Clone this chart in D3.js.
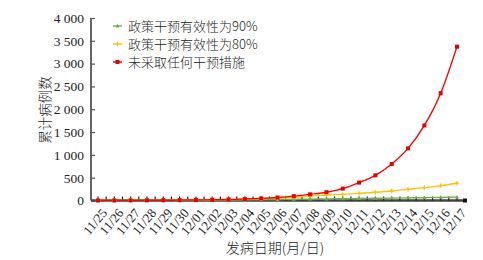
<!DOCTYPE html>
<html><head><meta charset="utf-8">
<script src="https://cdn.jsdelivr.net/npm/d3@7"></script>
<style>body{margin:0;background:#fff}svg{display:block}</style>
</head><body><svg id="c" width="483" height="260"></svg>
<script>
const categories = ["11/25","11/26","11/27","11/28","11/29","11/30","12/01","12/02","12/03","12/04","12/05","12/06","12/07","12/08","12/09","12/10","12/11","12/12","12/13","12/14","12/15","12/16","12/17"];
const seriesNames = ["政策干预有效性为90%","政策干预有效性为80%","未采取任何干预措施"];
const green90 = [1,2,3,4,5,7,9,11,14,17,20,23,27,31,35,39,43,48,53,58,63,69,75];
const orange80 = [1,2,3,4,6,8,11,15,20,27,38,52,72,100,118,135,157,180,208,245,282,325,378];
const red = [1,2,3,4,6,8,11,16,23,32,46,66,95,135,182,260,392,552,800,1142,1645,2352,3372];
const yTicks = [0,500,1000,1500,2000,2500,3000,3500,4000];
const colors = ["#70AD47","#FFC000","#FF0000"];

const svg = d3.select("#c");
const x = d3.scalePoint().domain(categories).range([98,457]);
const y = d3.scaleLinear().domain([0,4000]).range([200.5,18]);
const fmt = v => d3.format(",")(v).replace(/,/g," ");
const serif = "'Liberation Serif','Times New Roman',serif";
const cjk = "'Noto Sans CJK SC','Liberation Serif',serif";

// y axis
const ya = svg.append("g").attr("transform","translate(91,0)")
  .call(d3.axisLeft(y).tickValues(yTicks).tickFormat(fmt).tickSize(-4).tickPadding(7));
ya.select(".domain").attr("stroke","#666").attr("stroke-width",2).attr("d","M0,"+y(4000)+"V"+y(0));
ya.selectAll(".tick line").attr("stroke","#555").attr("stroke-width",1.2);
ya.selectAll("text").attr("font-family",serif).attr("font-size",13.5).attr("fill","#222");

// x axis
const step = x.step();
const xa = svg.append("g").attr("transform","translate(0,200.5)");
xa.append("line").attr("x1",91).attr("x2",466).attr("y1",0).attr("y2",0).attr("stroke","#444").attr("stroke-width",2.4);
xa.append("rect").attr("x",463).attr("y",-2).attr("width",4).attr("height",4).attr("fill","#111");
const tickPos = [];
categories.forEach((c,i)=>{tickPos.push(x(c)); tickPos.push(x(c)+step/2);});
tickPos.pop();
xa.selectAll("line.tk").data(tickPos).enter().append("line").attr("class","tk")
  .attr("x1",d=>d).attr("x2",d=>d).attr("y1",0).attr("y2",-4).attr("stroke","#222").attr("stroke-width",1.2);
xa.selectAll("text").data(categories).enter().append("text")
  .attr("transform",d=>`translate(${x(d)+3},${7}) rotate(-50)`)
  .attr("text-anchor","end").attr("dy","0.7em")
  .attr("font-family",serif).attr("font-size",13).attr("fill","#222").text(d=>d);

// lines
const all = [green90, orange80, red];
const line = d3.line().x((d,i)=>x(categories[i])).y(d=>y(d)).curve(d3.curveMonotoneX);
all.forEach((s,k)=>{
  svg.append("path").datum(s).attr("d",line).attr("fill","none").attr("stroke",colors[k]).attr("stroke-width",1.4);
});
// markers
const mk = svg.append("g");
green90.forEach((v,i)=>{
  const cx=x(categories[i]), cy=y(v);
  mk.append("path").attr("d",`M${cx-2},${cy+1.5}L${cx+2},${cy+1.5}L${cx},${cy-2}Z`).attr("fill",colors[0]);
});
orange80.forEach((v,i)=>{
  const cx=x(categories[i]), cy=y(v);
  mk.append("path").attr("d",`M${cx-2.2},${cy}H${cx+2.2}M${cx},${cy-2.2}V${cy+2.2}`).attr("stroke",colors[1]).attr("stroke-width",1.2);
});
red.forEach((v,i)=>{
  const cx=x(categories[i]), cy=y(v);
  mk.append("rect").attr("x",cx-2).attr("y",cy-2).attr("width",4).attr("height",4).attr("fill","#E80000");
});

// legend
const ly = [26,44,62];
seriesNames.forEach((n,k)=>{
  svg.append("line").attr("x1",113).attr("x2",122).attr("y1",ly[k]).attr("y2",ly[k]).attr("stroke",colors[k]).attr("stroke-width",1.4);
  if(k===0) svg.append("path").attr("d",`M115.5,${ly[k]+1.5}L119.5,${ly[k]+1.5}L117.5,${ly[k]-2}Z`).attr("fill",colors[0]);
  if(k===1) svg.append("path").attr("d",`M117.5,${ly[k]-2.2}V${ly[k]+2.2}`).attr("stroke",colors[1]).attr("stroke-width",1.2);
  if(k===2) svg.append("rect").attr("x",115.5).attr("y",ly[k]-2).attr("width",4).attr("height",4).attr("fill","#E80000");
  svg.append("text").attr("x",128).attr("y",ly[k]).attr("dy","0.36em")
    .attr("font-family",cjk).attr("font-weight",300).attr("font-size",13).attr("fill","#222").text(n);
});

// axis titles
svg.append("text").attr("transform","translate(45,110) rotate(-90)").attr("text-anchor","middle").attr("dy","0.36em")
  .attr("font-family",cjk).attr("font-weight",300).attr("font-size",13.5).attr("fill","#222").text("累计病例数");
svg.append("text").attr("x",275).attr("y",248).attr("text-anchor","middle").attr("dy","0.36em")
  .attr("font-family",cjk).attr("font-weight",300).attr("font-size",14).attr("fill","#222").text("发病日期(月/日)");
</script></body></html>
